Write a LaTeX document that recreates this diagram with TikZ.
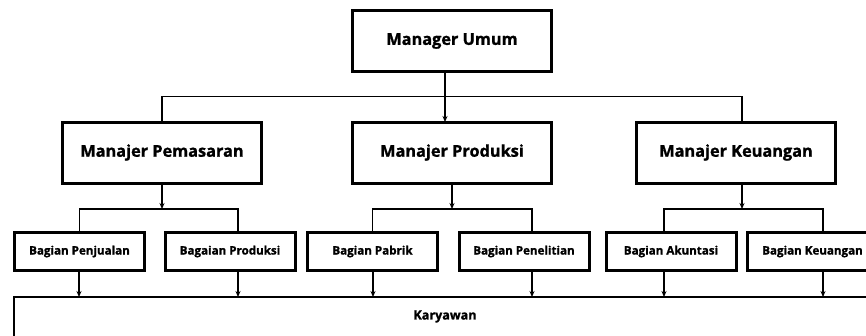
\documentclass[tikz,border=0pt]{standalone}
\usepackage{fontspec}
\setmainfont{Open Sans}[BoldFeatures={FakeBold=1.2}]
\usetikzlibrary{arrows.meta}
\begin{document}
\begin{tikzpicture}[x=1pt,y=-1pt,
  box/.style={draw=black,line width=3pt,fill=white,inner sep=0pt,font=\bfseries},
  conn/.style={line width=1.3pt},
  arr/.style={conn,-{Stealth[length=6pt,width=5pt]}},
  bigtext/.style={font=\bfseries\fontsize{16.3}{19}\selectfont},
  smalltext/.style={font=\bfseries\fontsize{11.6}{14}\selectfont}]
\useasboundingbox (0,0) rectangle (866,335);
\begin{scope}
\clip (0,0) rectangle (866,335);
% boxes
\node[box,minimum width=199pt,minimum height=61pt,bigtext] (mu) at (452,41) {Manager Umum};
\node[box,minimum width=199pt,minimum height=61pt,bigtext] (mp) at (162,152.5) {Manajer Pemasaran};
\node[box,minimum width=199pt,minimum height=61pt,bigtext] (mpr) at (452,152.5) {Manajer Produksi};
\node[box,minimum width=199pt,minimum height=61pt,bigtext] (mk) at (736,152.5) {Manajer Keuangan};
\tikzset{sbox/.style={box,minimum width=130pt,minimum height=38pt,smalltext}}
\node[sbox] (b1) at (79.5,251.5) {Bagian Penjualan};
\node[sbox] (b2) at (230,251.5) {Bagaian Produksi};
\node[sbox] (b3) at (372.5,251.5) {Bagian Pabrik};
\node[sbox] (b4) at (524,251.5) {Bagian Penelitian};
\node[sbox] (b5) at (671,251.5) {Bagian Akuntasi};
\node[sbox] (b6) at (812.5,251.5) {Bagian Keuangan};
\node[draw=black,line width=2pt,minimum width=862pt,minimum height=40pt,inner sep=0pt,font=\bfseries\fontsize{12.6}{15}\selectfont] (kr) at (445,316.5) {Karyawan};
% top level connectors
\coordinate (t1) at (162,96.5);
\coordinate (t2) at (742,96.5);
\draw[conn] (mp.north) -- (t1) -- (t2) -- (t2 |- mk.north);
\draw[arr] (mu.south -| 445,0) -- (445,122);
% second level
\draw[arr] (mp.south) -- (162,209);
\draw[conn] (b1.north) -- (79.5,209) -- (238,209) -- (238,232);
\draw[arr] (mpr.south) -- (452,209);
\draw[conn] (b3.north) -- (372.5,209) -- (532,209) -- (532,232);
\draw[arr] (mk.south -| 742,0) -- (742,209);
\draw[conn] (664,232) -- (664,209) -- (823,209) -- (823,232);
% to karyawan
\foreach \x in {79,238,373,532,664,823}{
  \draw[arr] (\x,271) -- (\x,297);
}
\end{scope}
\end{tikzpicture}
\end{document}
